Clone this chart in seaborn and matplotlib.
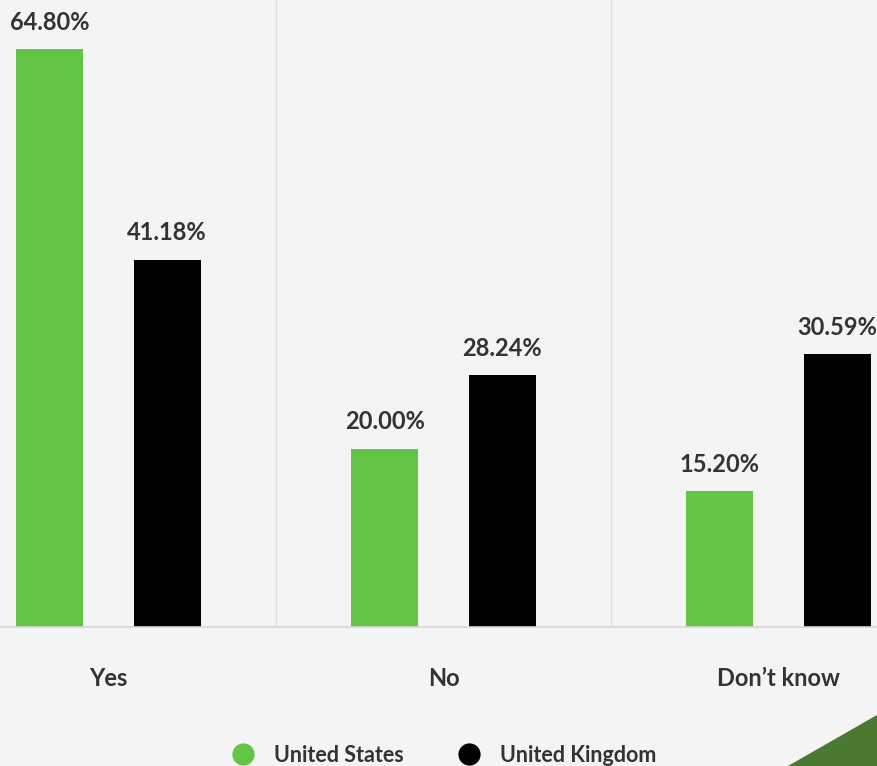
import matplotlib
matplotlib.use("Agg")
import matplotlib.pyplot as plt
from matplotlib.lines import Line2D
from matplotlib.patches import Polygon
import seaborn as sns
import pandas as pd

categories = ["Yes", "No", "Don\u2019t know"]
series_names = ["United States", "United Kingdom"]
us_values = [64.80, 20.00, 15.20]
uk_values = [41.18, 28.24, 30.59]
colors = ["#62c546", "#000000"]

df = pd.DataFrame({
    "answer": categories * 2,
    "country": [series_names[0]] * 3 + [series_names[1]] * 3,
    "share": us_values + uk_values,
})

sns.set_theme(style="white")
plt.rcParams["font.family"] = ["Lato", "DejaVu Sans"]

W, H = 877, 766
bg = "#f4f4f4"
fig = plt.figure(figsize=(W / 100, H / 100), dpi=100, facecolor=bg)

# plot area runs past the right edge of the canvas
left_px, right_px, base_px = -59, 946, 627
ax = fig.add_axes([left_px / W, (H - base_px) / H, (right_px - left_px) / W, base_px / H])
ax.set_facecolor(bg)

sns.barplot(data=df, x="answer", y="share", hue="country", order=categories,
            hue_order=series_names, palette=colors, width=0.7, gap=0.43,
            saturation=1, ax=ax, legend=False, edgecolor="none")

ax.set_xlim(-0.5, 2.5)
ax.set_ylim(0, base_px / 8.92)

for cont in ax.containers:
    ax.bar_label(cont, labels=[f"{v:.2f}%" for v in cont.datavalues], padding=11,
                 fontsize=17, fontweight="bold", color="#333333")

for xb in [0.5, 1.5]:
    ax.axvline(xb, color="#dcdcdc", lw=1, zorder=0)

for s in ["top", "right", "left"]:
    ax.spines[s].set_visible(False)
ax.spines["bottom"].set_color("#d8d8d8")
ax.spines["bottom"].set_linewidth(1.2)

ax.set_yticks([])
ax.set_xlabel("")
ax.set_ylabel("")
ax.tick_params(axis="x", length=0, pad=29)
for t in ax.get_xticklabels():
    t.set_fontsize(17)
    t.set_fontweight("bold")
    t.set_color("#333333")

handles = [Line2D([], [], marker="o", ls="none", markersize=16, color=c, markeredgewidth=0)
           for c in colors]
fig.legend(handles, series_names, loc="center", bbox_to_anchor=(439 / W, 11 / H),
           ncol=2, frameon=False, handletextpad=0.45, columnspacing=2.0,
           prop={"weight": "bold", "size": 15.5}, labelcolor="#333333")

# corner accent
tri = Polygon([(788 / W, 0), (1, 0), (1, (H - 715) / H)], closed=True,
              transform=fig.transFigure, color="#4a7a31", zorder=5)
fig.patches.append(tri)

fig.savefig("out.png", dpi=100, facecolor=bg)
